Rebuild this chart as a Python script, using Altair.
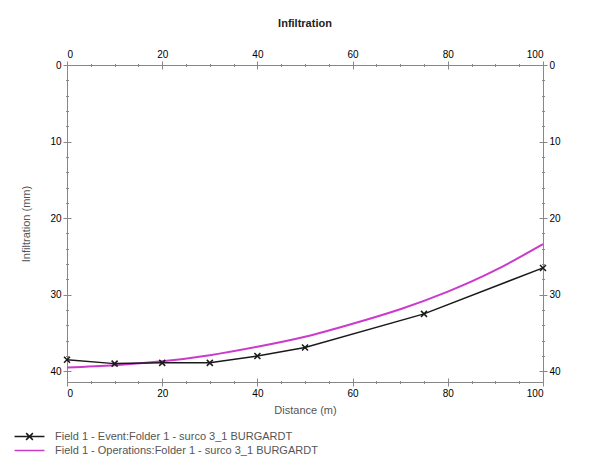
import altair as alt
import pandas as pd

# ---- data ----
event_x = [0, 10, 20, 30, 40, 50, 75, 100]
event_y = [38.5, 39.0, 38.9, 38.9, 38.0, 36.9, 32.5, 26.5]

ops_x = [0, 10, 20, 30, 40, 50, 60, 70, 80, 90, 100]
ops_y = [39.5, 39.2, 38.7, 37.9, 36.8, 35.5, 33.8, 31.9, 29.6, 26.8, 23.4]

series_names = [
    "Field 1 - Event:Folder 1 - surco 3_1 BURGARDT",
    "Field 1 - Operations:Folder 1 - surco 3_1 BURGARDT",
]
series_colors = ["#1a1a1a", "#cc3acc"]

x_major = [0, 20, 40, 60, 80, 100]
x_minor = [v for v in range(0, 101, 5) if v % 20 != 0]
y_major = [0, 10, 20, 30, 40]
y_minor = [v for v in range(0, 41, 2) if v % 10 != 0]

ev = pd.DataFrame({"x": event_x, "y": event_y, "s": series_names[0]})
op = pd.DataFrame({"x": ops_x, "y": ops_y, "s": series_names[1]})

FONT = "Liberation Sans"
xs = alt.Scale(domain=[0, 100], nice=False, zero=False)
ys = alt.Scale(domain=[0, 41.4], nice=False, zero=False, reverse=True)
cs = alt.Scale(domain=series_names, range=series_colors)

legend_line_cross = "M-4,0H4M-0.9,-0.9L0.9,0.9M-0.9,0.9L0.9,-0.9"
legend_line = "M-4,0H4"
shp = alt.Scale(domain=series_names, range=[legend_line_cross, legend_line])
xmark = "M-1,-1L1,1M-1,1L1,-1"


def make_legend():
    return alt.Legend(
        title=None, orient="none", legendX=-43, legendY=366,
        symbolSize=56, symbolStrokeWidth=1.5, labelFont=FONT, labelFontSize=11,
        labelColor="#555", labelOffset=20, labelLimit=0, rowPadding=1, symbolOpacity=1)


def main_axis(orient, values, title=None, tpad=None):
    kw = dict(orient=orient, values=values, grid=False, ticks=True, tickSize=4,
              domain=True, labels=True, labelPadding=2,
              titleFontWeight="normal", titleColor="#555", titleFont=FONT, titleFontSize=11)
    kw["title"] = title if title else None
    if tpad is not None:
        kw["titlePadding"] = tpad
    return alt.Axis(**kw)


def inner_axis(orient, values, size, off):
    return alt.Axis(orient=orient, values=values, grid=False, ticks=True, tickSize=size,
                    offset=off, domain=False, labels=False, title=None)


line_ev = alt.Chart(ev).mark_line(strokeWidth=1.5).encode(
    x=alt.X("x:Q", scale=xs, axis=main_axis("bottom", x_major, "Distance (m)", 6)),
    y=alt.Y("y:Q", scale=ys, axis=main_axis("left", y_major, "Infiltration (mm)", 18)),
    color=alt.Color("s:N", scale=cs, legend=make_legend()),
)

line_op = alt.Chart(op).mark_line(strokeWidth=2, interpolate="natural").encode(
    x=alt.X("x:Q", scale=xs, axis=main_axis("top", x_major)),
    y=alt.Y("y:Q", scale=ys, axis=main_axis("right", y_major)),
    color=alt.Color("s:N", scale=cs, legend=make_legend()),
)

pts = alt.Chart(ev).mark_point(shape=xmark, size=36, color="#1a1a1a", strokeWidth=1.5,
                               filled=False, opacity=1).encode(
    x=alt.X("x:Q", scale=xs, axis=inner_axis("bottom", x_major, 4, -4)),
    y=alt.Y("y:Q", scale=ys, axis=inner_axis("left", y_major, 4, -4)),
)

legend_layer = alt.Chart(op).transform_filter("false").mark_point(
    filled=False, strokeWidth=1.5, opacity=1
).encode(
    x=alt.X("x:Q", scale=xs, axis=inner_axis("top", x_major, 4, -4)),
    y=alt.Y("y:Q", scale=ys, axis=inner_axis("right", y_major, 4, -4)),
    color=alt.Color("s:N", scale=cs, legend=make_legend()),
    shape=alt.Shape("s:N", scale=shp, legend=make_legend()),
)

minor1 = alt.Chart(ev).transform_filter("false").mark_point().encode(
    x=alt.X("x:Q", scale=xs, axis=inner_axis("bottom", x_minor, 3, -1.5)),
    y=alt.Y("y:Q", scale=ys, axis=inner_axis("left", y_minor, 3, -1.5)),
)
minor2 = alt.Chart(ev).transform_filter("false").mark_point().encode(
    x=alt.X("x:Q", scale=xs, axis=inner_axis("top", x_minor, 3, -1.5)),
    y=alt.Y("y:Q", scale=ys, axis=inner_axis("right", y_minor, 3, -1.5)),
)

chart = alt.layer(legend_layer, line_op, line_ev, pts, minor1, minor2).resolve_axis(
    x="independent", y="independent"
).properties(
    width=476, height=317,
    title=alt.Title("Infiltration", font=FONT, fontSize=11, fontWeight="bold",
                    color="#222", offset=20),
    autosize=alt.AutoSizeParams(type="none"),
    padding={"left": 59, "top": 57, "right": 47, "bottom": 74},
).configure_axis(
    labelFont=FONT, labelFontSize=11, labelColor="#666",
    domainColor="#333", domainWidth=1.5, tickColor="#333", tickWidth=1.5,
).configure_view(stroke=None).configure(background="white")

chart.save("out.html", embed_options={"renderer": "svg", "actions": False})
